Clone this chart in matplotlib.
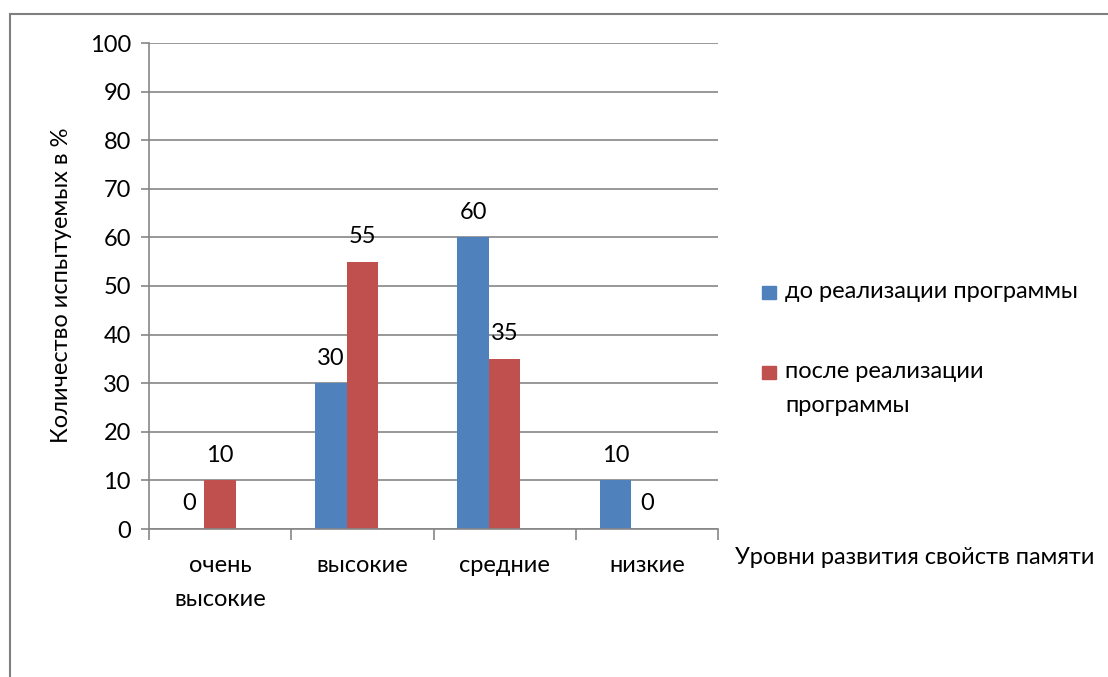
import matplotlib
matplotlib.use("Agg")
import matplotlib.pyplot as plt
import numpy as np
from matplotlib.patches import Rectangle

categories = ['очень\nвысокие', 'высокие', 'средние', 'низкие']
before = [0, 30, 60, 10]
after = [10, 55, 35, 0]
series_names = ['до реализации программы', 'после реализации\nпрограммы']
colors = ['#4F81BD', '#C0504D']

plt.rcParams['font.family'] = ['Lato', 'DejaVu Sans']
plt.rcParams['font.size'] = 17

fig = plt.figure(figsize=(11.08, 6.77), dpi=100)
ax = fig.add_axes([149 / 1108, 1 - 529 / 677, 569 / 1108, 486 / 677])

x = np.arange(len(categories))
width = 0.221  # three slots per group, the third one is empty
b1 = ax.bar(x - width, before, width, color=colors[0])
b2 = ax.bar(x, after, width, color=colors[1])

for bars, vals in ((b1, before), (b2, after)):
    for rect, v in zip(bars, vals):
        ax.annotate(str(v), (rect.get_x() + rect.get_width() / 2, v),
                    xytext=(0, 18), textcoords='offset points',
                    ha='center', va='center')

ax.set_xlim(-0.5, 3.5)
ax.set_ylim(0, 100)
ax.set_yticks(np.arange(0, 101, 10))
ax.yaxis.grid(True, color='#868686', linewidth=1.2)
ax.set_axisbelow(True)
ax.tick_params(axis='y', length=6, color='#868686', width=1.2, pad=7)

# category ticks sit on group boundaries, labels in the middle
ax.set_xticks(np.arange(-0.5, 4.0, 1.0))
ax.set_xticklabels([])
ax.set_xticks(x, minor=True)
ax.set_xticklabels(categories, minor=True)
ax.tick_params(axis='x', which='major', length=8, color='#868686', width=1.2)
ax.tick_params(axis='x', which='minor', length=0, pad=19)
for lbl in ax.get_xticklabels(minor=True):
    lbl.set_linespacing(1.75)
    lbl.set_va('top')

for side in ('top', 'right'):
    ax.spines[side].set_visible(False)
for side in ('left', 'bottom'):
    ax.spines[side].set_color('#868686')
    ax.spines[side].set_linewidth(1.2)

fig.text(62 / 1108, 1 - 285 / 677, 'Количество испытуемых в %',
         rotation=90, ha='center', va='center')

fig.text(735 / 1108, 1 - 558 / 677, 'Уровни развития свойств памяти',
         ha='left', va='center')

# legend: square marker beside the first line of each entry
for name, col, ytop in zip(series_names, colors, (286, 366)):
    fig.patches.append(Rectangle((762 / 1108, 1 - (ytop + 13) / 677),
                                 14 / 1108, 13 / 677,
                                 transform=fig.transFigure, color=col))
    fig.text(785 / 1108, 1 - (ytop - 5) / 677, name, ha='left', va='top',
             linespacing=1.75)

# outer chart border
fig.patches.append(Rectangle((10 / 1108, -0.1), 1.2, 1 - 14 / 677 + 0.1,
                             transform=fig.transFigure, fill=False,
                             edgecolor='#7f7f7f', linewidth=1.5))

fig.savefig('out.png', dpi=100)
